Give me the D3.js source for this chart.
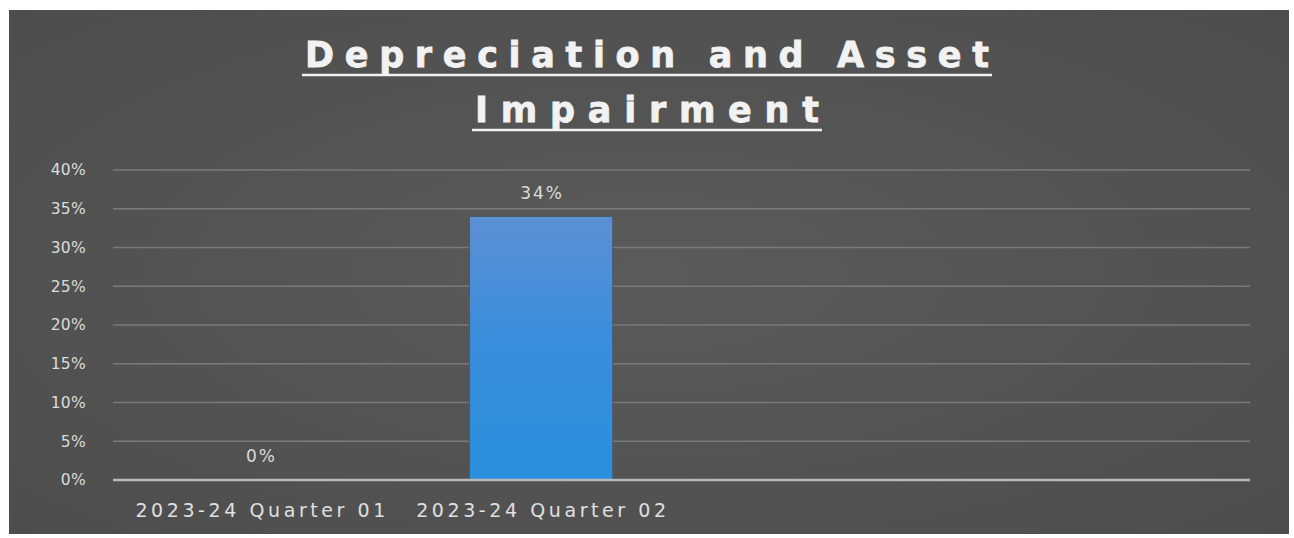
<!DOCTYPE html>
<html>
<head>
<meta charset="utf-8">
<script src="https://cdn.jsdelivr.net/npm/d3@7"></script>
<style>
  html, body { margin: 0; padding: 0; background: #ffffff; }
  svg { display: block; }
</style>
</head>
<body>
<svg id="chart" width="1294" height="538"></svg>
<script>
// Chart data
const categories = ["2023-24 Quarter 01", "2023-24 Quarter 02", "", ""];
const values = [0, 0.34, null, null];
const yTicks = [0, 0.05, 0.10, 0.15, 0.20, 0.25, 0.30, 0.35, 0.40];
const titleLines = ["Depreciation and Asset", "Impairment"];

const panel = { x: 9, y: 10, w: 1280, h: 524 };
const plot = { left: 113, right: 1250, top: 170, bottom: 480 };
const labelFont = "'DejaVu Sans', sans-serif";

const svg = d3.select("#chart");
const defs = svg.append("defs");

// Dark chart background with a soft centre highlight
const bg = defs.append("radialGradient").attr("id", "bgGrad")
  .attr("cx", "50%").attr("cy", "50%").attr("r", "70%");
bg.append("stop").attr("offset", "0%").attr("stop-color", "#5a5a5a");
bg.append("stop").attr("offset", "100%").attr("stop-color", "#4d4d4d");

// Vertical blue gradient for the bars
const barGrad = defs.append("linearGradient").attr("id", "barGrad")
  .attr("x1", 0).attr("y1", 0).attr("x2", 0).attr("y2", 1);
barGrad.append("stop").attr("offset", "0%").attr("stop-color", "#5c8fd4");
barGrad.append("stop").attr("offset", "45%").attr("stop-color", "#3b8edb");
barGrad.append("stop").attr("offset", "100%").attr("stop-color", "#2a8fdc");

svg.append("rect")
  .attr("x", panel.x).attr("y", panel.y)
  .attr("width", panel.w).attr("height", panel.h)
  .attr("fill", "url(#bgGrad)");

// Scales
const x = d3.scaleBand()
  .domain(d3.range(categories.length))
  .range([plot.left, plot.right])
  .paddingInner(0.49)
  .paddingOuter(0.27);

const y = d3.scaleLinear()
  .domain([0, 0.40])
  .range([plot.bottom, plot.top]);

// Horizontal gridlines
svg.append("g").selectAll("line")
  .data(yTicks.filter(t => t > 0))
  .join("line")
  .attr("x1", plot.left).attr("x2", plot.right)
  .attr("y1", d => y(d)).attr("y2", d => y(d))
  .attr("stroke", "#7a7a7a")
  .attr("stroke-width", 1.5);

// Y axis labels
const yAxis = d3.axisLeft(y)
  .tickValues(yTicks)
  .tickFormat(d3.format(".0%"))
  .tickSize(0)
  .tickPadding(0);

const yG = svg.append("g")
  .attr("transform", `translate(86,0)`)
  .call(yAxis);
yG.select(".domain").remove();
yG.selectAll("text")
  .attr("fill", "#dcdcdc")
  .style("font-family", labelFont)
  .style("font-size", "15.5px")
  .style("letter-spacing", "0.3px");

// Bars
const barData = values.map((v, i) => ({ v, i })).filter(d => d.v !== null);
svg.append("g").selectAll("rect")
  .data(barData)
  .join("rect")
  .attr("x", d => x(d.i))
  .attr("y", d => y(d.v))
  .attr("width", x.bandwidth())
  .attr("height", d => y(0) - y(d.v))
  .attr("fill", "url(#barGrad)")
  .attr("stroke", "#4a5a6a")
  .attr("stroke-width", 1);

// Baseline (0%)
svg.append("line")
  .attr("x1", plot.left).attr("x2", plot.right)
  .attr("y1", y(0)).attr("y2", y(0))
  .attr("stroke", "#b8b8b8")
  .attr("stroke-width", 2.5);

// Value labels
svg.append("g").selectAll("text")
  .data(barData)
  .join("text")
  .attr("x", d => x(d.i) + x.bandwidth() / 2 + 1)
  .attr("y", d => y(d.v) - 18)
  .attr("text-anchor", "middle")
  .attr("fill", "#dcdcdc")
  .style("font-family", labelFont)
  .style("font-size", "17px")
  .style("letter-spacing", "2px")
  .text(d => d3.format(".0%")(d.v));

// X axis category labels
const xAxis = d3.axisBottom(x)
  .tickFormat(i => categories[i])
  .tickSize(0)
  .tickPadding(0);
const xG = svg.append("g")
  .attr("transform", `translate(0,${plot.bottom + 37})`)
  .call(xAxis);
xG.select(".domain").remove();
xG.selectAll("text")
  .attr("fill", "#e0e0e0")
  .attr("dy", 0)
  .style("font-family", labelFont)
  .style("font-size", "19px")
  .each(function (i) {
    if (categories[i]) d3.select(this).attr("textLength", 250).attr("lengthAdjust", "spacing");
  });

// Title: two bold, underlined lines
const titleCx = 647;
const titleSpecs = [
  { text: titleLines[0], y: 67, width: 684 },
  { text: titleLines[1], y: 122, width: 344 }
];
titleSpecs.forEach(s => {
  svg.append("text")
    .attr("x", titleCx)
    .attr("y", s.y)
    .attr("text-anchor", "middle")
    .attr("fill", "#f2f2f2")
    .attr("stroke", "#f2f2f2")
    .attr("stroke-width", 0.8)
    .attr("textLength", s.width)
    .attr("lengthAdjust", "spacing")
    .style("font-family", "'DejaVu Sans', sans-serif")
    .style("font-weight", "700")
    .style("font-size", "35px")
    .text(s.text);
  svg.append("line")
    .attr("x1", titleCx - s.width / 2 - 3)
    .attr("x2", titleCx + s.width / 2 + 3)
    .attr("y1", s.y + 8).attr("y2", s.y + 8)
    .attr("stroke", "#f2f2f2")
    .attr("stroke-width", 2.5);
});
</script>
</body>
</html>
